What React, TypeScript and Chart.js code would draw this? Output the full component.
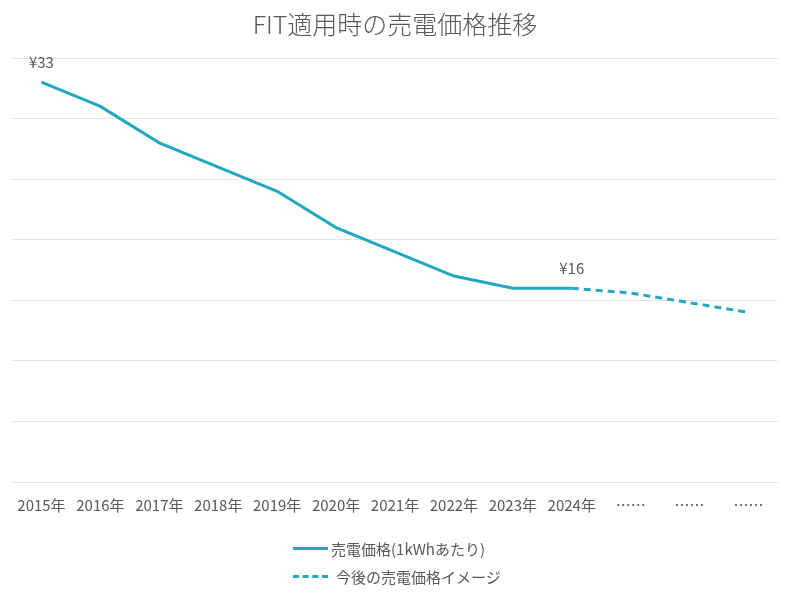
import React, { useEffect, useRef } from "react";
import { Chart, registerables } from "chart.js";

Chart.register(...registerables);

const categories = ["2015年", "2016年", "2017年", "2018年", "2019年", "2020年", "2021年", "2022年", "2023年", "2024年", "……", "……", "……"];
const actualPrices = [33, 31, 28, 26, 24, 21, 19, 17, 16, 16, null, null, null];
const futurePrices = [null, null, null, null, null, null, null, null, null, 16, 15.6, 14.8, 14];
const pointLabels = ["¥33", "", "", "", "", "", "", "", "", "¥16", "", "", ""];
const seriesNames = ["売電価格(1kWhあたり)", "今後の売電価格イメージ"];
const titleText = "FIT適用時の売電価格推移";

const LINE_COLOR = "#22A8C0";
const TEXT_COLOR = "#595959";
const FONT = "'Noto Sans CJK JP', 'Noto Sans', sans-serif";

const labelPlugin = {
  id: "pointLabels",
  afterDatasetsDraw(chart: any) {
    const ctx = chart.ctx;
    const meta = chart.getDatasetMeta(0);
    ctx.save();
    ctx.font = `15px ${FONT}`;
    ctx.fillStyle = TEXT_COLOR;
    ctx.textAlign = "center";
    ctx.textBaseline = "bottom";
    pointLabels.forEach((lbl, i) => {
      if (!lbl) return;
      const el = meta.data[i];
      if (!el) return;
      ctx.fillText(lbl, el.x, el.y - 12);
    });
    ctx.restore();
  },
};

export default function App() {
  const ref = useRef<HTMLCanvasElement>(null);
  useEffect(() => {
    if (!ref.current) return;
    const chart = new Chart(ref.current, {
      type: "line",
      data: {
        labels: categories,
        datasets: [
          {
            label: seriesNames[0],
            data: actualPrices,
            borderColor: LINE_COLOR,
            backgroundColor: LINE_COLOR,
            borderWidth: 3,
            pointRadius: 0,
            tension: 0,
            spanGaps: false,
          },
          {
            label: seriesNames[1],
            data: futurePrices,
            borderColor: LINE_COLOR,
            backgroundColor: LINE_COLOR,
            borderWidth: 3,
            borderDash: [7, 5],
            pointRadius: 0,
            tension: 0,
          },
        ],
      },
      options: {
        animation: false,
        responsive: false,
        maintainAspectRatio: false,
        layout: { padding: { left: 12, right: 12, top: 58, bottom: 67 } },
        plugins: {
          legend: { display: false },
          title: { display: false },
          tooltip: { enabled: false },
        },
        scales: {
          x: {
            offset: true,
            grid: { display: false, drawTicks: false },
            border: { display: false },
            ticks: {
              color: TEXT_COLOR,
              font: { family: FONT, size: 15 },
              padding: 14,
              maxRotation: 0,
              autoSkip: false,
            },
          },
          y: {
            min: 0,
            max: 35,
            ticks: { display: false, stepSize: 5 },
            grid: { color: "#e4e4e4", drawTicks: false, lineWidth: 1 },
            border: { display: false },
          },
        },
      },
      plugins: [labelPlugin],
    });
    return () => chart.destroy();
  }, []);

  const legendRow = (dashed: boolean, text: string, top: number) => (
    <div style={{ position: "absolute", left: 293, top, display: "flex", alignItems: "center", height: 20 }}>
      <div
        style={{
          width: 35,
          height: 0,
          borderTop: `3px ${dashed ? "dashed" : "solid"} ${LINE_COLOR}`,
          marginRight: dashed ? 8 : 3,
        }}
      />
      <span style={{ fontFamily: FONT, fontSize: 15, color: TEXT_COLOR, whiteSpace: "nowrap" }}>{text}</span>
    </div>
  );

  return (
    <div style={{ position: "fixed", left: 0, top: 0, width: 790, height: 595, background: "#fff" }}>
      <canvas ref={ref} width={790} height={595} style={{ position: "absolute", left: 0, top: 0 }} />
      <div
        style={{
          position: "absolute",
          left: 0,
          top: 5,
          width: 790,
          textAlign: "center",
          fontFamily: FONT,
          fontSize: 25,
          fontWeight: 300,
          color: TEXT_COLOR,
        }}
      >
        {titleText}
      </div>
      {legendRow(false, seriesNames[0], 538)}
      {legendRow(true, seriesNames[1], 566)}
    </div>
  );
}
